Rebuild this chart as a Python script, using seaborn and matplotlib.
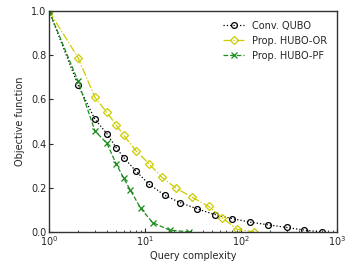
import numpy as np
import pandas as pd
import matplotlib
matplotlib.use("Agg")
import matplotlib.pyplot as plt
import seaborn as sns

# query complexity / objective values
qubo_x = [1, 2, 3, 4, 5, 6, 8, 11, 16, 23, 35, 54, 81, 125, 192, 299, 457, 693]
qubo_y = [1.0, 0.665, 0.51, 0.445, 0.381, 0.336, 0.276, 0.216, 0.166, 0.133,
          0.104, 0.078, 0.06, 0.044, 0.032, 0.02, 0.008, 0.0]

or_x = [1, 2, 3, 4, 5, 6, 8, 11, 15, 21, 31, 46, 63, 91, 137]
or_y = [1.0, 0.789, 0.609, 0.541, 0.484, 0.437, 0.368, 0.308, 0.247, 0.198,
        0.157, 0.115, 0.065, 0.012, 0.0]

pf_x = [1, 2, 3, 4, 5, 6, 7, 9, 12, 18, 29]
pf_y = [1.0, 0.683, 0.458, 0.401, 0.308, 0.243, 0.19, 0.107, 0.042, 0.008, 0.0]

sns.set_style("ticks")
plt.rcParams['font.family'] = ['DejaVu Sans']
plt.rcParams['font.size'] = 7
plt.rcParams['xtick.direction'] = 'in'
plt.rcParams['ytick.direction'] = 'in'

fig = plt.figure(figsize=(3.51, 2.65), dpi=100)
ax = fig.add_axes([0.14, 0.125, 0.82, 0.833])

sns.lineplot(x=qubo_x, y=qubo_y, ax=ax, color='k', linestyle=':', marker='o',
             mfc='none', mec='k', ms=4.2, mew=0.9, lw=0.9, label='Conv. QUBO')
sns.lineplot(x=or_x, y=or_y, ax=ax, color='#cccc00', linestyle='-.', marker='D',
             mfc='none', mec='#cccc00', ms=4.2, mew=0.9, lw=0.9, label='Prop. HUBO-OR')
sns.lineplot(x=pf_x, y=pf_y, ax=ax, color='#1a8c1a', linestyle='--', marker='x',
             mec='#1a8c1a', ms=4.2, mew=0.9, lw=0.9, label='Prop. HUBO-PF')

ax.set_xscale('log')
ax.set_xlim(1, 1000)
ax.set_ylim(0, 1)
ax.set_yticks([0, 0.2, 0.4, 0.6, 0.8, 1.0])
ax.set_xlabel('Query complexity', fontsize=7, labelpad=2)
ax.set_ylabel('Objective function', fontsize=7, labelpad=4)
ax.tick_params(labelsize=7, length=3, pad=2)
ax.tick_params(which='minor', length=1.5, direction='in')
for s in ax.spines.values():
    s.set_color('#333333')
    s.set_linewidth(1)

ax.legend(loc='upper right', frameon=False, fontsize=7, handlelength=2.2,
          borderaxespad=0.6)

fig.savefig('out.png', dpi=100)
